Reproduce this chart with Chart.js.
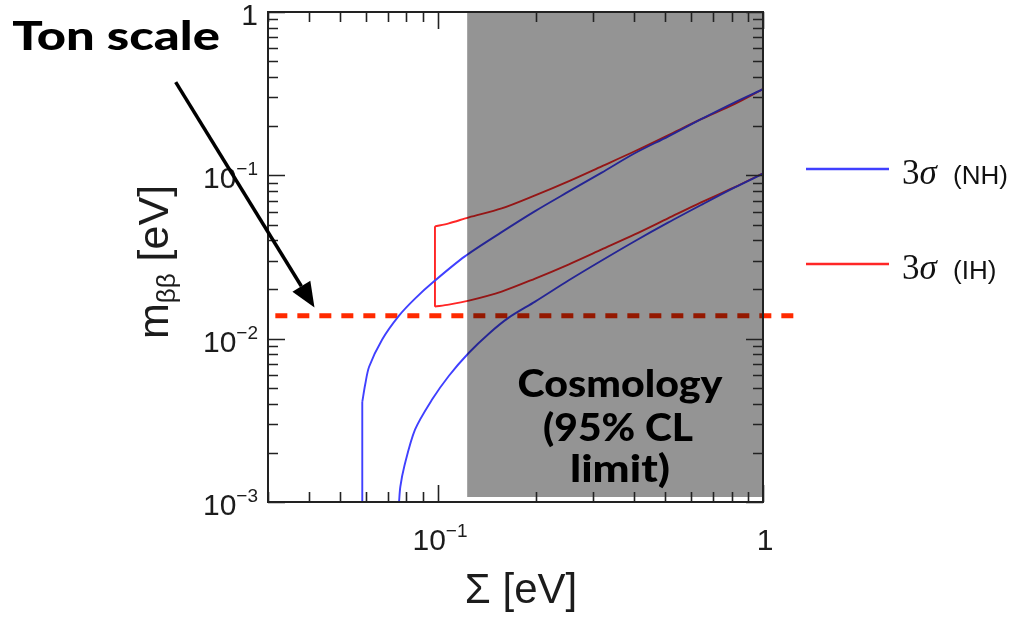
<!DOCTYPE html>
<html>
<head>
<meta charset="utf-8">
<script src="https://cdn.jsdelivr.net/npm/chart.js@4.4.1/dist/chart.umd.min.js"></script>
<style>
  html, body { margin: 0; padding: 0; background: #ffffff; }
  #wrap { width: 1019px; height: 620px; }
</style>
</head>
<body>
<div id="wrap"><canvas id="mbbChart" width="1019" height="620"></canvas></div>
<script>
// Σ [eV] / m_ββ [eV]
const nhUpperStemSum = [0.0585, 0.0585];
const nhUpperStemMbb = [0.001, 0.0041];
const nhUpperSum = [0.0585, 0.0597, 0.0614, 0.0673, 0.0759, 0.0850, 0.0979, 0.121, 0.157, 0.199, 0.252, 0.319, 0.403, 0.510, 0.645, 0.816, 1.0];
const nhUpperMbb = [0.0041, 0.00522, 0.00673, 0.00986, 0.01384, 0.0176, 0.02268, 0.0319, 0.0449, 0.0604, 0.0794, 0.1039, 0.1365, 0.1728, 0.2207, 0.279, 0.337];

const nhLowerSum = [0.0759, 0.0766, 0.0787, 0.0850, 0.0958, 0.1081, 0.1245, 0.1434, 0.1651, 0.199, 0.252, 0.319, 0.403, 0.510, 0.645, 0.816, 1.0];
const nhLowerMbb = [0.001, 0.00124, 0.00164, 0.00277, 0.00422, 0.00593, 0.0082, 0.01073, 0.01345, 0.01686, 0.0227, 0.0301, 0.0395, 0.0513, 0.0658, 0.084, 0.1024];

const ihUpperSum = [0.0979, 0.108, 0.1245, 0.157, 0.199, 0.252, 0.319, 0.403, 0.510, 0.645, 0.816, 1.0];
const ihUpperMbb = [0.0487, 0.0508, 0.0553, 0.0627, 0.0754, 0.0919, 0.1136, 0.1404, 0.1759, 0.2207, 0.2726, 0.337];
const ihEdgeSum = [0.0979, 0.0979];
const ihEdgeMbb = [0.0487, 0.0157];
const ihLowerSum = [0.0979, 0.108, 0.1245, 0.157, 0.199, 0.252, 0.319, 0.403, 0.510, 0.645, 0.816, 1.0];
const ihLowerMbb = [0.0157, 0.01616, 0.0171, 0.01943, 0.02334, 0.02844, 0.03516, 0.04345, 0.0545, 0.0683, 0.0844, 0.1029];

const tonScaleSum = [0.0316, 1.24];
const tonScaleMbb = [0.0138, 0.0138];

const cosmoLimit = 0.123;
const xTickLabels = [0.1, 1];
const yTickLabels = [0.001, 0.01, 0.1, 1];
const legendLabels = ["(NH)", "(IH)"];

const nhColor = "#4040ff";
const ihColor = "#ff2626";
const tonColor = "#ff2a00";

function pts(xs, ys) {
    return xs.map((x, i) => ({ x: x, y: ys[i] }));
}

function curve(xs, ys, color, tension) {
    return {
        data: pts(xs, ys),
        borderColor: color,
        borderWidth: 1.9,
        pointRadius: 0,
        tension: tension,
        fill: false,
    };
}

// "10" with a raised exponent
function drawPow(ctx, v, x, y, align) {
    const e = Math.round(Math.log10(v));
    const base = e === 0 ? "1" : "10";
    const exp = e === 0 ? "" : "\u2212" + Math.abs(e);
    ctx.font = "30px 'Liberation Sans', Arial, sans-serif";
    const wb = ctx.measureText(base).width;
    ctx.font = "19px 'Liberation Sans', Arial, sans-serif";
    const we = ctx.measureText(exp).width;
    const w = wb + we;
    let x0 = align === "right" ? x - w : x - w / 2;
    ctx.textAlign = "left";
    ctx.font = "30px 'Liberation Sans', Arial, sans-serif";
    ctx.fillText(base, x0, y);
    ctx.font = "19px 'Liberation Sans', Arial, sans-serif";
    ctx.fillText(exp, x0 + wb, y - 13);
}

function fitText(ctx, txt, x, y, target) {
    const w = ctx.measureText(txt).width;
    let sx = target / w;
    sx = Math.max(0.8, Math.min(1.3, sx));
    ctx.save();
    ctx.translate(x, y);
    ctx.scale(sx, 1);
    ctx.textAlign = "center";
    ctx.fillText(txt, 0, 0);
    ctx.restore();
}

const tonArrow = { fromSum: 0.0156, fromMbb: 0.372, toSum: 0.0417, toMbb: 0.0155 };

const decorPlugin = {
    id: "decor",
    afterDatasetsDraw(chart) {
        const ctx = chart.ctx;
        const a = chart.chartArea;
        const xs = chart.scales.x;
        const ys = chart.scales.y;
        ctx.save();

        // cosmology excluded region
        const sx = xs.getPixelForValue(cosmoLimit);
        ctx.fillStyle = "rgba(0,0,0,0.42)";
        ctx.fillRect(sx, a.top + 1, a.right - sx, a.bottom - a.top - 6);

        // frame
        ctx.strokeStyle = "#222";
        ctx.lineWidth = 2;
        ctx.strokeRect(a.left, a.top, a.right - a.left, a.bottom - a.top);

        // inward ticks on all four sides
        ctx.lineWidth = 1.6;
        ctx.beginPath();
        for (let d = -2; d <= 0; d++) {
            for (let m = 1; m <= 9; m++) {
                const v = m * Math.pow(10, d);
                if (v < 0.03 - 1e-9 || v > 1 + 1e-9) continue;
                const p = Math.round(xs.getPixelForValue(v)) + 0.5;
                const len = m === 1 ? 17 : 10;
                ctx.moveTo(p, a.bottom); ctx.lineTo(p, a.bottom - len);
                ctx.moveTo(p, a.top); ctx.lineTo(p, a.top + len);
            }
        }
        for (let d = -3; d <= 0; d++) {
            for (let m = 1; m <= 9; m++) {
                const v = m * Math.pow(10, d);
                if (v > 1 + 1e-9) continue;
                const p = Math.round(ys.getPixelForValue(v)) + 0.5;
                const len = m === 1 ? 17 : 10;
                ctx.moveTo(a.left, p); ctx.lineTo(a.left + len, p);
                ctx.moveTo(a.right, p); ctx.lineTo(a.right - len, p);
            }
        }
        ctx.stroke();

        // tick labels
        ctx.fillStyle = "#1c1c1c";
        ctx.textBaseline = "alphabetic";
        xTickLabels.forEach(v => drawPow(ctx, v, xs.getPixelForValue(v) + 2, a.bottom + 48, "center"));
        yTickLabels.forEach(v => drawPow(ctx, v, a.left - 10, ys.getPixelForValue(v) + 13, "right"));

        // axis titles
        ctx.textAlign = "center";
        ctx.font = "42px 'Liberation Sans', Arial, sans-serif";
        ctx.fillText("\u03a3 [eV]", 521, 603);

        ctx.save();
        ctx.translate(168, 262);
        ctx.rotate(-Math.PI / 2);
        ctx.textAlign = "left";
        const big = "43px 'Liberation Sans', Arial, sans-serif";
        const sub = "26px 'Liberation Sans', Arial, sans-serif";
        ctx.font = big;
        const wm = ctx.measureText("m").width;
        const wr = ctx.measureText(" [eV]").width;
        ctx.font = sub;
        const wb = ctx.measureText("\u03b2\u03b2").width;
        let x0 = -(wm + wb + wr) / 2;
        ctx.font = big;
        ctx.fillText("m", x0, 0);
        ctx.font = sub;
        ctx.fillText("\u03b2\u03b2", x0 + wm, 7);
        ctx.font = big;
        ctx.fillText(" [eV]", x0 + wm + wb, 0);
        ctx.restore();

        // legend
        const legY = [169, 264];
        const legCol = [nhColor, ihColor];
        legY.forEach((ly, i) => {
            ctx.strokeStyle = legCol[i];
            ctx.lineWidth = 2.5;
            ctx.beginPath();
            ctx.moveTo(806, ly); ctx.lineTo(889, ly);
            ctx.stroke();
            ctx.fillStyle = "#111";
            ctx.textAlign = "left";
            ctx.font = "35px 'Liberation Serif', 'DejaVu Serif', serif";
            ctx.fillText("3", 902, ly + 15);
            const w3 = ctx.measureText("3").width;
            ctx.font = "italic 35px 'Liberation Serif', 'DejaVu Serif', serif";
            ctx.fillText("\u03c3", 902 + w3, ly + 15);
            ctx.font = "26px 'Liberation Sans', Arial, sans-serif";
            ctx.fillText(legendLabels[i], 953, ly + 15);
        });

        // ton scale arrow
        const fx = xs.getPixelForValue(tonArrow.fromSum), fy = ys.getPixelForValue(tonArrow.fromMbb);
        const tx = xs.getPixelForValue(tonArrow.toSum), ty = ys.getPixelForValue(tonArrow.toMbb);
        const ang = Math.atan2(ty - fy, tx - fx);
        const hl = 25, hw = 10.5;
        const bx = tx - hl * Math.cos(ang), by = ty - hl * Math.sin(ang);
        ctx.strokeStyle = "#000";
        ctx.lineWidth = 3.5;
        ctx.beginPath();
        ctx.moveTo(fx, fy); ctx.lineTo(bx, by);
        ctx.stroke();
        ctx.fillStyle = "#000";
        ctx.beginPath();
        ctx.moveTo(tx, ty);
        ctx.lineTo(bx + hw * Math.sin(ang), by - hw * Math.cos(ang));
        ctx.lineTo(bx - hw * Math.sin(ang), by + hw * Math.cos(ang));
        ctx.closePath();
        ctx.fill();

        // annotations
        ctx.fillStyle = "#000";
        ctx.font = "900 39px Lato, 'Open Sans', sans-serif";
        fitText(ctx, "Ton scale", 116, 50, 208);
        ctx.font = "900 37px Lato, 'Open Sans', sans-serif";
        fitText(ctx, "Cosmology", 620, 397, 205);
        fitText(ctx, "(95% CL", 618, 441, 150);
        fitText(ctx, "limit)", 620, 482, 100);

        ctx.restore();
    },
};

const ctx = document.getElementById("mbbChart").getContext("2d");
const chart = new Chart(ctx, {
    type: "line",
    data: {
        datasets: [
            curve(nhUpperStemSum, nhUpperStemMbb, nhColor, 0),
            curve(nhUpperSum, nhUpperMbb, nhColor, 0.3),
            curve(nhLowerSum, nhLowerMbb, nhColor, 0.3),
            curve(ihUpperSum, ihUpperMbb, ihColor, 0.3),
            curve(ihEdgeSum, ihEdgeMbb, ihColor, 0),
            curve(ihLowerSum, ihLowerMbb, ihColor, 0.3),
            {
                data: pts(tonScaleSum, tonScaleMbb),
                borderColor: tonColor,
                borderWidth: 5,
                borderDash: [12, 10],
                pointRadius: 0,
                clip: false,
                fill: false,
            },
        ],
    },
    options: {
        responsive: false,
        animation: false,
        devicePixelRatio: 1,
        layout: { padding: { left: 268, right: 256, top: 12, bottom: 118 } },
        plugins: { legend: { display: false }, tooltip: { enabled: false } },
        scales: {
            x: { type: "logarithmic", min: 0.03, max: 1, display: false },
            y: { type: "logarithmic", min: 0.001, max: 1, display: false },
        },
    },
    plugins: [decorPlugin],
});
</script>
</body>
</html>
